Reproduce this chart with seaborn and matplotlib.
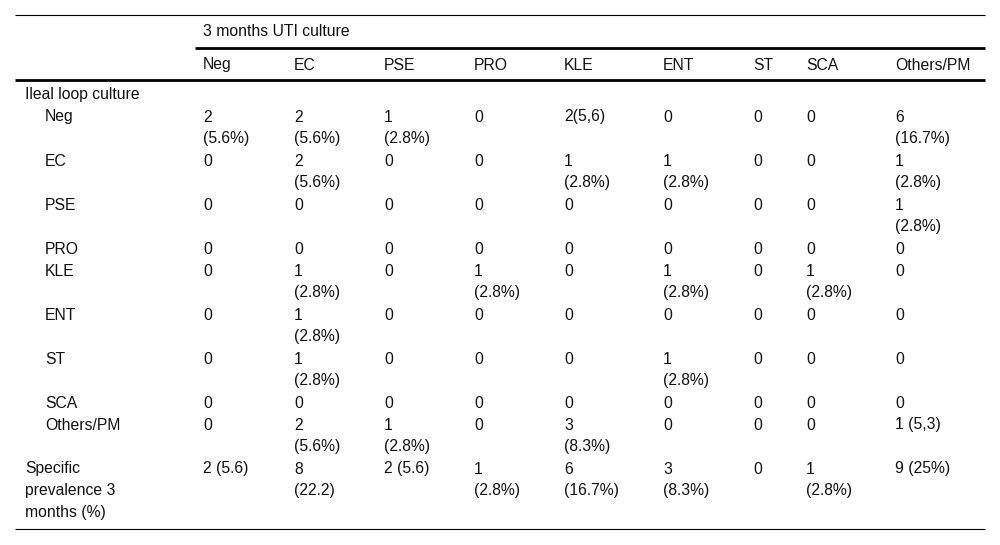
import matplotlib
matplotlib.use("Agg")
import matplotlib.pyplot as plt
import seaborn as sns

sns.set_theme(style="white")
plt.rcParams["font.family"] = ["Liberation Sans", "DejaVu Sans"]

# data
group_title = "3 months UTI culture"
section_title = "Ileal loop culture"
col_labels = ["Neg", "EC", "PSE", "PRO", "KLE", "ENT", "ST", "SCA", "Others/PM"]
row_labels = ["Neg", "EC", "PSE", "PRO", "KLE", "ENT", "ST", "SCA", "Others/PM"]
cells = [
    ["2\n(5.6%)", "2\n(5.6%)", "1\n(2.8%)", "0", "2(5,6)", "0", "0", "0", "6\n(16.7%)"],
    ["0", "2\n(5.6%)", "0", "0", "1\n(2.8%)", "1\n(2.8%)", "0", "0", "1\n(2.8%)"],
    ["0", "0", "0", "0", "0", "0", "0", "0", "1\n(2.8%)"],
    ["0", "0", "0", "0", "0", "0", "0", "0", "0"],
    ["0", "1\n(2.8%)", "0", "1\n(2.8%)", "0", "1\n(2.8%)", "0", "1\n(2.8%)", "0"],
    ["0", "1\n(2.8%)", "0", "0", "0", "0", "0", "0", "0"],
    ["0", "1\n(2.8%)", "0", "0", "0", "1\n(2.8%)", "0", "0", "0"],
    ["0", "0", "0", "0", "0", "0", "0", "0", "0"],
    ["0", "2\n(5.6%)", "1\n(2.8%)", "0", "3\n(8.3%)", "0", "0", "0", "1 (5,3)"],
]
total_label = "Specific\nprevalence 3\nmonths (%)"
total_cells = ["2 (5.6)", "8\n(22.2)", "2 (5.6)", "1\n(2.8%)", "6\n(16.7%)",
               "3\n(8.3%)", "0", "1\n(2.8%)", "9 (25%)"]

# layout (pixels)
W, H = 1000, 545
col_x = [203, 294, 384, 474, 564, 663, 753, 806, 895]
step = 22
fs = 11.3
txt = dict(fontsize=fs, color="#111111", va="center", ha="left")

fig = plt.figure(figsize=(W / 100, H / 100), dpi=100)
ax = fig.add_axes([0, 0, 1, 1])
ax.set_xlim(0, W)
ax.set_ylim(H, 0)
ax.axis("off")


def put(x, y, s):
    for i, line in enumerate(s.split("\n")):
        ax.text(x, y + i * step, line, **txt)
    return len(s.split("\n"))


# rules
ax.hlines(15, 15, 985, color="black", lw=0.8)
ax.hlines(48, 195, 985, color="black", lw=2.0)
ax.hlines(80, 15, 985, color="black", lw=2.0)
ax.hlines(529, 15, 985, color="black", lw=0.8)

put(col_x[0], 32, group_title)
for x, lab in zip(col_x, col_labels):
    put(x, 65, lab)

y = 95
put(25, y, section_title)
y += step
for lab, row in zip(row_labels, cells):
    n = put(45, y, lab)
    for x, c in zip(col_x, row):
        n = max(n, put(x, y, c))
    y += n * step

n = put(25, y, total_label)
for x, c in zip(col_x, total_cells):
    put(x, y, c)

fig.savefig("out.png", dpi=100, facecolor="white")
